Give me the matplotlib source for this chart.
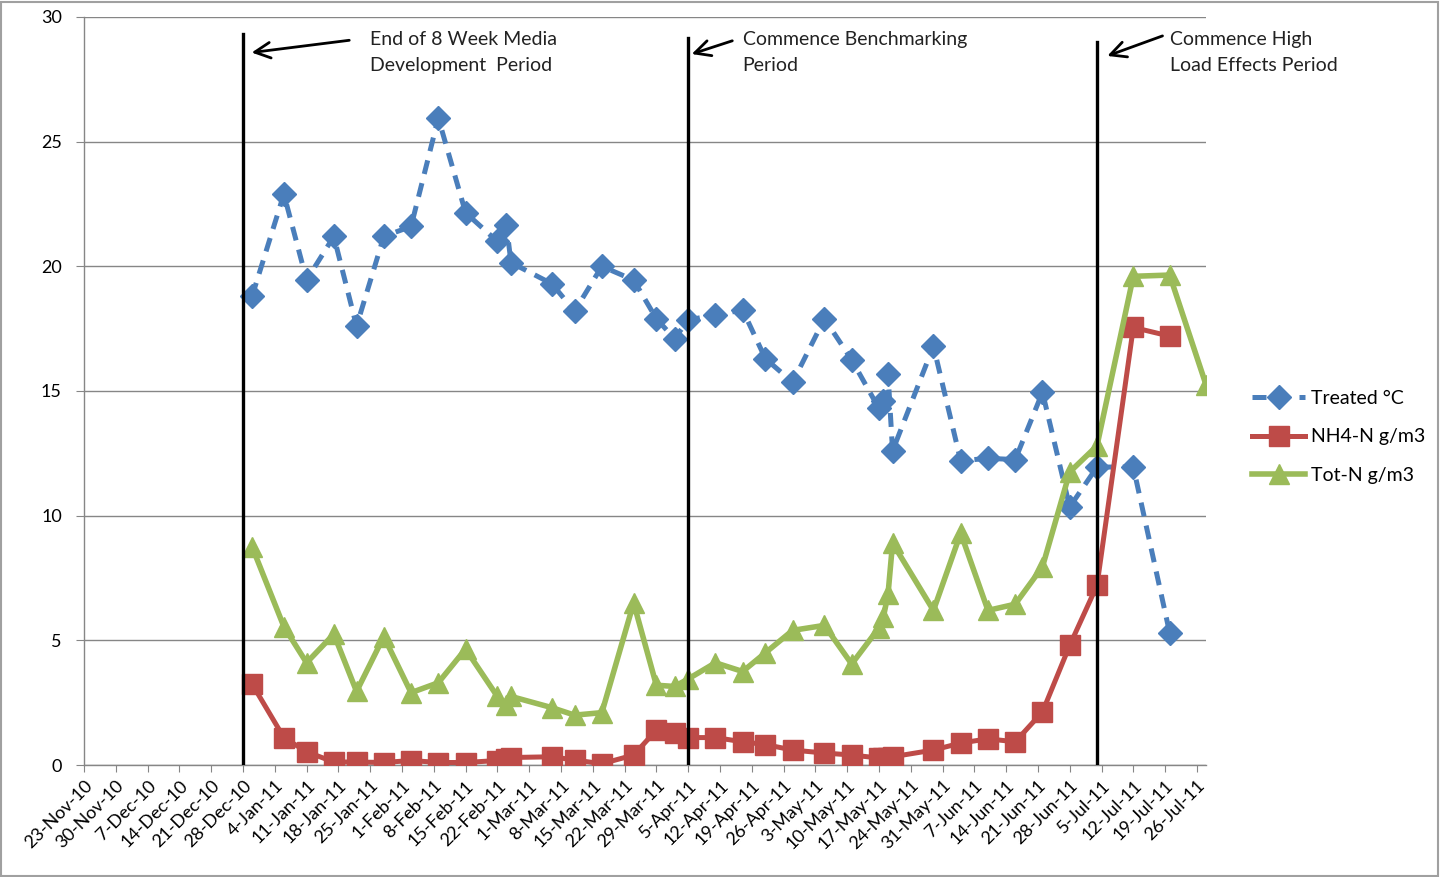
import numpy as np
import pandas as pd
import matplotlib
matplotlib.use("Agg")
import matplotlib.pyplot as plt
from matplotlib.patches import Rectangle

plt.rcParams['font.family'] = ['Lato', 'DejaVu Sans']

# sample dates and readings
sample_dates = [
    "30-Dec-10", "6-Jan-11", "11-Jan-11", "17-Jan-11", "22-Jan-11", "28-Jan-11",
    "3-Feb-11", "9-Feb-11", "15-Feb-11", "22-Feb-11", "24-Feb-11", "25-Feb-11",
    "6-Mar-11", "11-Mar-11", "17-Mar-11", "24-Mar-11", "29-Mar-11", "2-Apr-11",
    "5-Apr-11", "11-Apr-11", "17-Apr-11", "22-Apr-11", "28-Apr-11", "5-May-11",
    "11-May-11", "17-May-11", "18-May-11", "19-May-11", "20-May-11", "29-May-11",
    "4-Jun-11", "10-Jun-11", "16-Jun-11", "22-Jun-11", "28-Jun-11", "4-Jul-11",
    "12-Jul-11", "20-Jul-11", "28-Jul-11",
]
treated_temp = [
    18.8, 22.9, 19.45, 21.2, 17.6, 21.2,
    21.6, 25.95, 22.15, 21.0, 21.65, 20.15,
    19.3, 18.2, 20.0, 19.45, 17.9, 17.1,
    17.85, 18.05, 18.25, 16.3, 15.35, 17.9,
    16.25, 14.3, 14.6, 15.7, 12.6, 16.8,
    12.2, 12.3, 12.25, 14.95, 10.35, 11.95,
    11.95, 5.3, np.nan,
]
nh4_n = [
    3.25, 1.1, 0.53, 0.12, 0.12, 0.1,
    0.18, 0.1, 0.1, 0.18, 0.25, 0.3,
    0.33, 0.2, 0.05, 0.4, 1.4, 1.3,
    1.1, 1.1, 0.93, 0.82, 0.6, 0.48,
    0.4, 0.28, 0.28, 0.3, 0.33, 0.6,
    0.88, 1.05, 0.93, 2.13, 4.8, 7.2,
    17.55, 17.2, np.nan,
]
tot_n = [
    8.75, 5.55, 4.1, 5.25, 2.95, 5.15,
    2.9, 3.3, 4.65, 2.75, 2.4, 2.75,
    2.3, 2.0, 2.1, 6.5, 3.2, 3.15,
    3.45, 4.1, 3.75, 4.5, 5.4, 5.6,
    4.05, 5.5, 5.95, 6.85, 8.9, 6.2,
    9.3, 6.2, 6.45, 7.95, 11.75, 12.8,
    19.6, 19.65, 15.25,
]

tick_labels = [
    "23-Nov-10", "30-Nov-10", "7-Dec-10", "14-Dec-10", "21-Dec-10", "28-Dec-10",
    "4-Jan-11", "11-Jan-11", "18-Jan-11", "25-Jan-11", "1-Feb-11", "8-Feb-11",
    "15-Feb-11", "22-Feb-11", "1-Mar-11", "8-Mar-11", "15-Mar-11", "22-Mar-11",
    "29-Mar-11", "5-Apr-11", "12-Apr-11", "19-Apr-11", "26-Apr-11", "3-May-11",
    "10-May-11", "17-May-11", "24-May-11", "31-May-11", "7-Jun-11", "14-Jun-11",
    "21-Jun-11", "28-Jun-11", "5-Jul-11", "12-Jul-11", "19-Jul-11", "26-Jul-11",
]

# period markers
period_dates = ["28-Dec-10", "5-Apr-11", "4-Jul-11"]
period_tops = [29.3, 29.15, 29.0]
period_notes = ["End of 8 Week Media\nDevelopment  Period",
                "Commence Benchmarking\nPeriod",
                "Commence High\nLoad Effects Period"]

fmt = "%d-%b-%y"
x = pd.to_datetime(sample_dates, format=fmt)
ticks = pd.to_datetime(tick_labels, format=fmt)
pdates = pd.to_datetime(period_dates, format=fmt)

blue = "#4A7EBB"
red = "#BE4B48"
green = "#9BBB59"
grey = "#868686"

fig = plt.figure(figsize=(14.42, 8.77), dpi=100)
ax = fig.add_axes([84 / 1442, 112 / 877, 1122 / 1442, 748 / 877])

ax.plot(x, treated_temp, color=blue, lw=3.6, dashes=(2.8, 1.9), marker="D",
        ms=12, mfc=blue, mec=blue, label="Treated °C", zorder=3)
ax.plot(x, nh4_n, color=red, lw=3.6, marker="s", ms=14, mfc=red, mec=red,
        label="NH4-N g/m3", zorder=3)
ax.plot(x, tot_n, color=green, lw=4, marker="^", ms=15, mfc=green, mec=green,
        label="Tot-N g/m3", zorder=3)

# vertical lines for the start of each period
for d, top in zip(pdates, period_tops):
    ax.plot([d, d], [0, top], color="black", lw=2.4, zorder=4)

one_day = pd.Timedelta(days=1)
arrow = dict(arrowstyle="->", lw=2, color="black", mutation_scale=28)
ax.annotate("", xy=(pdates[0] + 1.3 * one_day, 28.56),
            xytext=(pdates[0] + 24 * one_day, 29.08), arrowprops=arrow)
ax.annotate("", xy=(pdates[1] + 0.2 * one_day, 28.48),
            xytext=(pdates[1] + 10.3 * one_day, 29.08), arrowprops=arrow)
ax.annotate("", xy=(pdates[2] + 1.7 * one_day, 28.4),
            xytext=(pdates[2] + 15 * one_day, 29.28), arrowprops=arrow)

note_x = [pdates[0] + 28 * one_day, pdates[1] + 12 * one_day, pdates[2] + 16 * one_day]
for nx, note in zip(note_x, period_notes):
    ax.text(nx, 28.57, note, ha="left", va="center", fontsize=14, linespacing=1.6,
            color="#222222")

ax.set_ylim(0, 30)
ax.set_yticks(np.arange(0, 31, 5))
ax.set_xlim(ticks[0], pd.to_datetime("28-Jul-11", format=fmt))
ax.set_xticks(ticks)
ax.set_xticklabels(tick_labels, rotation=45, ha="right", rotation_mode="anchor")
ax.tick_params(axis="x", length=5, color=grey, labelsize=13, pad=4)
ax.tick_params(axis="y", length=6, color=grey, labelsize=13, pad=10)

ax.grid(axis="y", color=grey, lw=1)
ax.set_axisbelow(True)
for side in ["top", "right"]:
    ax.spines[side].set_visible(False)
for side in ["left", "bottom"]:
    ax.spines[side].set_color(grey)
    ax.spines[side].set_linewidth(1)

ax.legend(loc="upper left", bbox_to_anchor=(1252 / 1442, 1 - 390 / 877),
          bbox_transform=fig.transFigure, frameon=False, fontsize=14,
          handlelength=2.75, handletextpad=0.3, labelspacing=1.1,
          borderpad=0, borderaxespad=0)

fig.patches.append(Rectangle((0.001, 0.001), 0.996, 0.997, transform=fig.transFigure,
                             fill=False, ec="#a0a0a0", lw=1.5))

fig.savefig("out.png", dpi=100)
